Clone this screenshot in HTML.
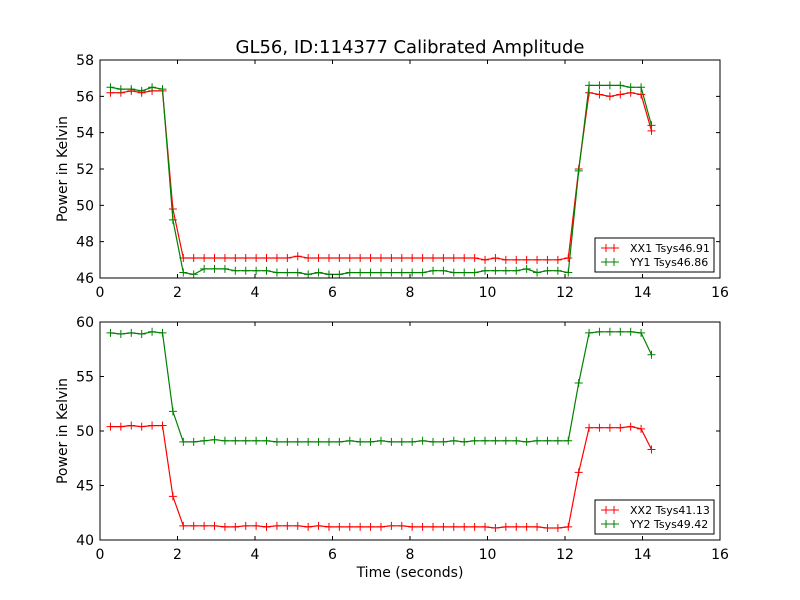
<!DOCTYPE html>
<html><head><meta charset="utf-8"><style>
body{margin:0;background:#fff;}
svg{display:block;font-family:"DejaVu Sans","Liberation Sans",sans-serif;}
</style></head><body>
<svg id="chart" width="800" height="600"></svg>
<script>
const times = [];
for (let i = 0; i < 53; i++) times.push(+(0.27 + i * 0.2685).toFixed(3));
const xx1 = [56.2,56.2,56.3,56.2,56.3,56.3,49.8,47.1,47.1,47.1,47.1,47.1,47.1,47.1,47.1,47.1,47.1,47.1,47.2,47.1,47.1,47.1,47.1,47.1,47.1,47.1,47.1,47.1,47.1,47.1,47.1,47.1,47.1,47.1,47.1,47.1,47.0,47.1,47.0,47.0,47.0,47.0,47.0,47.0,47.1,52.0,56.2,56.1,56.0,56.1,56.2,56.1,54.1];
const yy1 = [56.5,56.4,56.4,56.3,56.5,56.4,49.2,46.3,46.2,46.5,46.5,46.5,46.4,46.4,46.4,46.4,46.3,46.3,46.3,46.2,46.3,46.2,46.2,46.3,46.3,46.3,46.3,46.3,46.3,46.3,46.3,46.4,46.4,46.3,46.3,46.3,46.4,46.4,46.4,46.4,46.5,46.3,46.4,46.4,46.3,51.9,56.6,56.6,56.6,56.6,56.5,56.5,54.4];
const xx2 = [50.4,50.4,50.5,50.4,50.5,50.5,44.0,41.3,41.3,41.3,41.3,41.2,41.2,41.3,41.3,41.2,41.3,41.3,41.3,41.2,41.3,41.2,41.2,41.2,41.2,41.2,41.2,41.3,41.3,41.2,41.2,41.2,41.2,41.2,41.2,41.2,41.2,41.1,41.2,41.2,41.2,41.2,41.1,41.1,41.2,46.2,50.3,50.3,50.3,50.3,50.4,50.2,48.3];
const yy2 = [59.0,58.9,59.0,58.9,59.1,59.0,51.8,49.0,49.0,49.1,49.2,49.1,49.1,49.1,49.1,49.1,49.0,49.0,49.0,49.0,49.0,49.0,49.0,49.1,49.0,49.0,49.1,49.0,49.0,49.0,49.1,49.0,49.0,49.1,49.0,49.1,49.1,49.1,49.1,49.1,49.0,49.1,49.1,49.1,49.1,54.4,59.0,59.1,59.1,59.1,59.1,59.0,57.0];
const xTicks = [0,2,4,6,8,10,12,14,16];
const yTicksTop = [46,48,50,52,54,56,58];
const yTicksBot = [40,45,50,55,60];

const svg = document.getElementById('chart');
const NS = 'http://www.w3.org/2000/svg';
function mk(tag, attrs, parent) {
  const e = document.createElementNS(NS, tag);
  for (const k in attrs) e.setAttribute(k, attrs[k]);
  (parent || svg).appendChild(e);
  return e;
}
const L = 100, R = 720;
function xs(v) { return L + (v - 0) / 16 * (R - L); }

function panel(top, bot, ymin, ymax, yTicks, seriesList, legendY, name) {
  const g = mk('g', {});
  
  
  const ys = v => bot - (v - ymin) / (ymax - ymin) * (bot - top);
  mk('rect', {x: L, y: top, width: R - L, height: bot - top, fill: '#fff'}, g);
  seriesList.forEach(s => {
    const sg = mk('g', {}, g);
    
    
    const pts = s.vals.map((v, i) => xs(times[i]).toFixed(1) + ',' + ys(v).toFixed(1)).join(' ');
    mk('polyline', {points: pts, fill: 'none', stroke: s.color, 'stroke-width': 1.2}, sg);
    s.vals.forEach((v, i) => {
      const cx = xs(times[i]), cy = ys(v);
      const m = mk('path', {d: `M${cx-4},${cy}H${cx+4}M${cx},${cy-4}V${cy+4}`, stroke: s.color, 'stroke-width': 1}, sg);
      
      
    });
  });
  mk('rect', {x: L, y: top, width: R - L, height: bot - top, fill: 'none', stroke: '#000', 'stroke-width': 1}, g);
  xTicks.forEach(t => {
    const x = xs(t);
    mk('path', {d: `M${x},${bot}v-4M${x},${top}v4`, stroke: '#000'}, g);
    const tx = mk('text', {x: x, y: bot + 19, 'font-size': 14, 'text-anchor': 'middle'}, g);
    tx.textContent = t;
    
    
  });
  yTicks.forEach(t => {
    const y = ys(t);
    mk('path', {d: `M${L},${y}h4M${R},${y}h-4`, stroke: '#000'}, g);
    const ty = mk('text', {x: L - 6, y: y + 5, 'font-size': 14, 'text-anchor': 'end'}, g);
    ty.textContent = t;
    
    
  });
  const yl = mk('text', {x: 0, y: 0, 'font-size': 14, 'text-anchor': 'middle', transform: `translate(67,${(top+bot)/2}) rotate(-90)`}, g);
  yl.textContent = 'Power in Kelvin';
  
  
  const lg = mk('g', {}, g);
  
  
  mk('rect', {x: 595, y: legendY, width: 119, height: 34, fill: '#fff', stroke: '#000'}, lg);
  seriesList.forEach((s, i) => {
    const y = legendY + 10 + i * 14;
    mk('path', {d: `M601,${y}h18M605,${y}h0M606,${y-4}v8M614,${y-4}v8`, stroke: s.color, 'stroke-width': 1}, lg);
    const t = mk('text', {x: 630, y: y + 4, 'font-size': 11}, lg);
    t.textContent = s.label;
    
    
  });
}

const title = mk('text', {x: 410, y: 53, 'font-size': 18, 'text-anchor': 'middle'});
title.textContent = 'GL56, ID:114377 Calibrated Amplitude';



panel(60, 278, 46, 58, yTicksTop, [
  {name: 'xx1-series', vals: xx1, color: '#ff0000', label: 'XX1 Tsys46.91'},
  {name: 'yy1-series', vals: yy1, color: '#008000', label: 'YY1 Tsys46.86'}
], 238, 'top-panel');
panel(322, 540, 40, 60, yTicksBot, [
  {name: 'xx2-series', vals: xx2, color: '#ff0000', label: 'XX2 Tsys41.13'},
  {name: 'yy2-series', vals: yy2, color: '#008000', label: 'YY2 Tsys49.42'}
], 500, 'bottom-panel');

const xl = mk('text', {x: 410, y: 577, 'font-size': 14, 'text-anchor': 'middle'});
xl.textContent = 'Time (seconds)';


</script>
</body></html>
